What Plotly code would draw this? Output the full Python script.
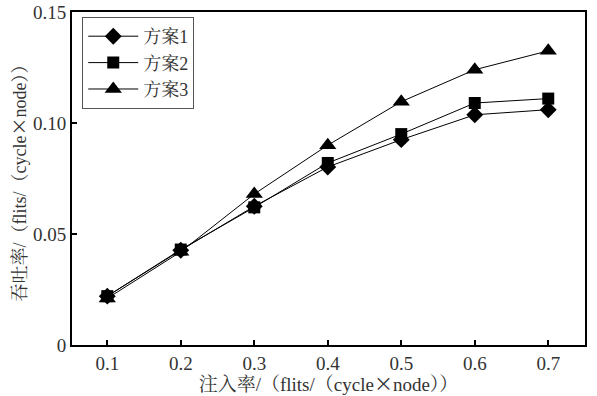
import plotly.graph_objects as go

x_vals = [0.1, 0.2, 0.3, 0.4, 0.5, 0.6, 0.7]
scheme1 = [0.022, 0.0427, 0.0625, 0.0802, 0.0925, 0.1037, 0.106]
scheme2 = [0.022, 0.043, 0.062, 0.082, 0.095, 0.109, 0.111]
scheme3 = [0.021, 0.042, 0.068, 0.090, 0.1096, 0.124, 0.1325]
names = ["方案1", "方案2", "方案3"]
symbols = ["diamond", "square", "triangle-up"]
sizes = [13, 12, 15]
x_ticks = [0.1, 0.2, 0.3, 0.4, 0.5, 0.6, 0.7]
x_tick_text = ["0.1", "0.2", "0.3", "0.4", "0.5", "0.6", "0.7"]
y_ticks = [0, 0.05, 0.10, 0.15]
y_tick_text = ["0", "0.05", "0.10", "0.15"]

FONT = "'Liberation Serif', 'Noto Serif CJK SC', 'Noto Sans CJK SC', serif"
CJK = "Noto Sans CJK SC"
TXT = "#333"
TIMES = '<span style="font-family:' + CJK + '">×</span>'
x_title = "注入率/（flits/（cycle" + TIMES + "node））"
y_title = "吞吐率/（flits/（cycle" + TIMES + "node））"

fig = go.Figure()
for name, ys, sym, sz in zip(names, [scheme1, scheme2, scheme3], symbols, sizes):
    fig.add_trace(go.Scatter(
        x=x_vals, y=ys, name=name, mode="lines+markers",
        line=dict(color="black", width=1),
        marker=dict(symbol=sym, size=sz, color="black"),
    ))

fig.update_layout(
    width=597, height=396,
    margin=dict(l=72, r=12, t=12, b=51),
    paper_bgcolor="white", plot_bgcolor="white",
    font=dict(family=FONT, size=19, color=TXT),
    showlegend=True,
    legend=dict(x=0.02, y=0.985, xanchor="left", yanchor="top",
                bordercolor="#555", borderwidth=1, bgcolor="white",
                font=dict(family=FONT, size=18, color=TXT),
                itemwidth=50, tracegroupgap=0),
    xaxis=dict(range=[0.052, 0.75], tickvals=x_ticks, ticktext=x_tick_text,
               ticks="inside", ticklen=5, tickwidth=2, tickcolor="black",
               showline=True, linecolor="black", linewidth=2, mirror=True,
               showgrid=False, zeroline=False, automargin=False,
               tickfont=dict(family=FONT, size=19, color=TXT),
               title=dict(text=x_title, standoff=6,
                          font=dict(family=FONT, size=19, color=TXT))),
    yaxis=dict(range=[0, 0.15], tickvals=y_ticks, ticktext=y_tick_text,
               ticks="inside", ticklen=5, tickwidth=2, tickcolor="black",
               showline=True, linecolor="black", linewidth=2, mirror=True,
               showgrid=False, zeroline=False, automargin=False,
               tickfont=dict(family=FONT, size=19, color=TXT),
               title=dict(text=y_title, standoff=2,
                          font=dict(family=FONT, size=18, color=TXT))),
)

fig.write_html("out.html")
